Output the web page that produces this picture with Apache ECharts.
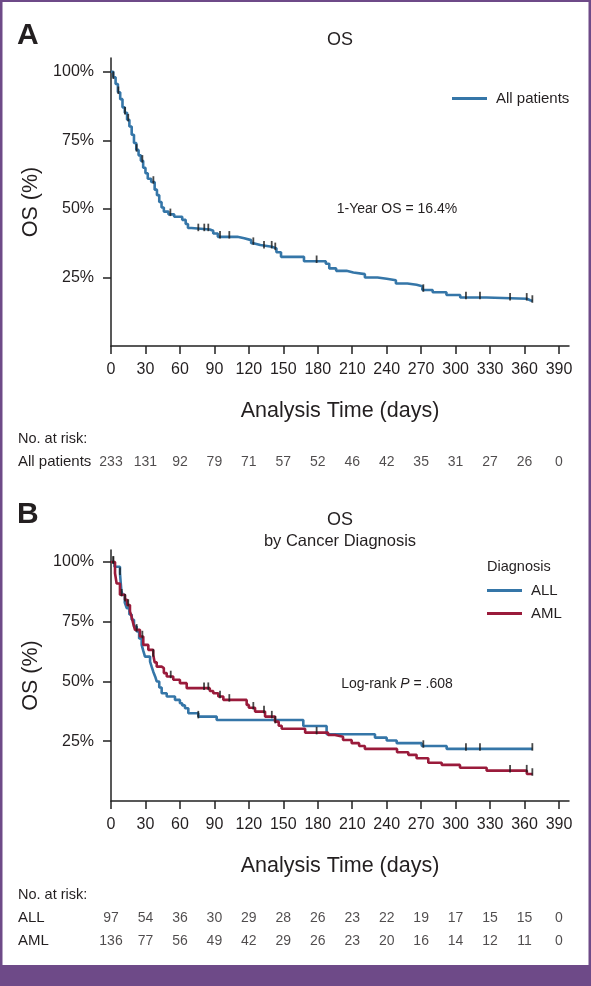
<!DOCTYPE html>
<html><head><meta charset="utf-8">
<script src="https://cdn.jsdelivr.net/npm/echarts@6/dist/echarts.min.js"></script>
<style>html,body{margin:0;padding:0;background:#fff}#c{width:591px;height:986px}</style>
</head><body><div id="c"></div>
<script>
// ---- data ----
const xTickValues = [0,30,60,90,120,150,180,210,240,270,300,330,360,390];
const yTickValues = [25,50,75,100];

const allTimes = [0,2,4,6,8,10,12,14,16,18,20,22,24,26,28,30,32,35,38,40,42,44,46,50,55,62,65,67,70,86,89,93,110,116,122,124,130,140,144,148,168,187,190,196,205,211,221,232,240,248,258,266,271,280,292,304,327,362,365,367];
const allSurv  = [100,98,95.5,92.5,90,87,85,82.5,80,77,74,71.5,69.5,67.5,65,63,61,59.8,57,55,52.5,50.5,49,48,47.1,46,44.5,43,42.5,42,41,39.8,39.3,38.6,37.5,36.8,36.2,35.6,34.2,32.5,30.9,30,28.3,27.4,26.8,26.2,25,24.5,24,22.8,22.3,21.8,20.4,19.6,18.6,17.7,17.2,16.7,16.4,16.4];
const allCensorTimes = [2,6.4,12.2,15,22.3,27.3,36.9,51.7,76,81.2,84.7,94.9,103,123.9,133.2,139.9,143,179,271.9,309,321.2,347.4,361.9,366.8];

const allTimesB = [0,3,7.8,9,10,12,13.7,16,18,20,22.4,24.5,26.7,28,29.6,34,35.5,36.8,38.5,39.8,42,44.1,48.5,55.7,60,62,64.4,67.3,76,92,167.4,187.7,229.8,240,248.7,270.5,292.2,367];
const allSurvB  = [100,98,95.3,88,86.3,83,80.7,78,75.8,73,70.9,68,65.3,63,60.4,58.3,56,54.1,52,50,47.5,45.1,43.7,42.3,40.9,40,38.8,36.7,35.3,33.9,31.4,27.9,26.5,25.3,24.2,23,21.8,21.8];
const allCensorTimesB = [2,7.8,76,271.9,309,321.2,366.8];

const amlTimes = [0,3.5,4.9,7.8,12.2,14,16.5,18,19.5,20.9,25.2,28.1,32.5,36.8,38,39.8,44.1,46,48.5,54.2,60,65.9,86,89,93.4,97.8,118.1,120,125.4,134.1,142.8,146,148.6,169,189,195,202,209.5,216,221,249,258.8,266,276.2,287.9,303.8,327,362,367];
const amlSurv  = [100,95.3,91,86.3,84.2,82,79.3,77,74,71.6,68.8,65.3,63.2,61.1,58,56.2,55.6,53.5,52.1,50.7,49.3,47.2,46,45.1,43.7,42.3,40.2,39,37.4,35.3,33.2,31.5,30.2,28.6,27.6,26.9,25.5,24.2,23,21.8,20.4,19.3,17.9,16,15.1,13.9,12.7,11.3,11.3];
const amlCensorTimes = [2,9.3,12.2,15,22.3,27.3,36.8,52,81,84.7,94.9,103,123.9,133.2,140,143,179,347.4,361.9,366.8];

const riskAll = [233,131,92,79,71,57,52,46,42,35,31,27,26,0];
const riskALL = [97,54,36,30,29,28,26,23,22,19,17,15,15,0];
const riskAML = [136,77,56,49,42,29,26,23,20,16,14,12,11,0];

// ---- helpers ----
const FONT = 'Liberation Sans, Arial, Helvetica, sans-serif';
const TXT = '#231f20';
const BLUE = '#3576a8';
const RED = '#9a1b3b';
const PURPLE = '#6e4a88';
const XMAX = 398.7;

function pairs(t, s){ return t.map((v,i)=>[v, s[i]]); }
function survAt(t, s, x){ let k=0; for(let i=0;i<t.length;i++){ if(t[i]<=x) k=i; } return s[k]; }
function censor(t, s, ct){ return ct.map(x=>[x, survAt(t,s,x)]); }

function xAx(grid){
  return {type:'value', gridIndex:grid, min:0, max:XMAX, interval:30,
    axisLine:{show:true, lineStyle:{color:'#222', width:1.5}},
    axisTick:{show:true, length:8, lineStyle:{color:'#222', width:1.5}, customValues:xTickValues},
    axisLabel:{fontSize:16, color:TXT, fontFamily:FONT, margin:16, customValues:xTickValues},
    splitLine:{show:false},
    name:'Analysis Time (days)', nameLocation:'middle', nameGap:54,
    nameTextStyle:{fontSize:21.5, color:TXT, fontFamily:FONT}};
}
function yAx(grid){
  return {type:'value', gridIndex:grid, min:0, max:105, interval:25,
    axisLine:{show:true, lineStyle:{color:'#222', width:1.5}},
    axisTick:{show:true, length:8, lineStyle:{color:'#222', width:1.5}, customValues:yTickValues},
    axisLabel:{fontSize:16, color:TXT, fontFamily:FONT, margin:17, formatter:v=>v+'%', customValues:yTickValues},
    splitLine:{show:false},
    name:'OS (%)', nameLocation:'middle', nameGap:56, nameRotate:90,
    nameTextStyle:{fontSize:21.5, color:TXT, fontFamily:FONT}};
}
function stepLine(name, t, s, color, xi){
  return {name, type:'line', step:'end', data:pairs(t,s), xAxisIndex:xi, yAxisIndex:xi,
    symbol:'none', showSymbol:false, lineStyle:{color, width:2.6}, itemStyle:{color}, z:3, silent:true};
}
function ticks(t, s, ct, xi){
  return {type:'scatter', data:censor(t,s,ct), xAxisIndex:xi, yAxisIndex:xi,
    symbol:'rect', symbolSize:[1.8,7.5], symbolOffset:[0,-2], itemStyle:{color:'#1a1a1a'}, z:4, silent:true};
}
function riskSeries(vals, row, xi){
  return {type:'scatter', xAxisIndex:xi, yAxisIndex:xi, symbolSize:1, itemStyle:{color:'rgba(0,0,0,0)'},
    data: vals.map((v,i)=>[xTickValues[i], row, v]),
    label:{show:true, position:'inside', formatter:p=>String(p.value[2]), fontSize:14, color:TXT, fontFamily:FONT}, silent:true};
}
function riskX(grid){ return {type:'value', gridIndex:grid, min:0, max:XMAX, show:false}; }
function riskY(grid, cats){
  return {type:'category', gridIndex:grid, data:cats, inverse:true,
    axisLine:{show:false}, axisTick:{show:false},
    axisLabel:{align:'left', margin:93, fontSize:15, color:TXT, fontFamily:FONT}};
}

const chart = echarts.init(document.getElementById('c'), null, {renderer:'canvas'});
chart.setOption({
  animation:false,
  backgroundColor:'#fff',
  textStyle:{fontFamily:FONT},
  grid:[
    {left:111, top:58, width:458, height:288},
    {left:111, top:550, width:458, height:251},
    {left:111, top:451, width:458, height:22},
    {left:111, top:907, width:458, height:45}
  ],
  xAxis:[xAx(0), xAx(1), riskX(2), riskX(3)],
  yAxis:[yAx(0), yAx(1), riskY(2, ['All patients']), riskY(3, ['ALL','AML'])],
  legend:[
    {data:[{name:'All patients'}], left:447, top:86, icon:'rect', itemWidth:35, itemHeight:3,
     textStyle:{fontSize:15, color:TXT, fontFamily:FONT, padding:[0,0,0,4]}},
    {data:[{name:'ALL'},{name:'AML'}], left:482, top:578, orient:'vertical', itemGap:8, icon:'rect', itemWidth:35, itemHeight:3,
     textStyle:{fontSize:15, color:TXT, fontFamily:FONT, padding:[0,0,0,4]}}
  ],
  series:[
    stepLine('All patients', allTimes, allSurv, BLUE, 0),
    ticks(allTimes, allSurv, allCensorTimes, 0),
    stepLine('ALL', allTimesB, allSurvB, BLUE, 1),
    stepLine('AML', amlTimes, amlSurv, RED, 1),
    ticks(allTimesB, allSurvB, allCensorTimesB, 1),
    ticks(amlTimes, amlSurv, amlCensorTimes, 1),
    riskSeries(riskAll, 0, 2),
    riskSeries(riskALL, 0, 3),
    riskSeries(riskAML, 1, 3)
  ],
  graphic:[
    {type:'rect', shape:{x:0,y:0,width:591,height:2}, style:{fill:PURPLE}, silent:true},
    {type:'rect', shape:{x:0,y:0,width:2.5,height:986}, style:{fill:PURPLE}, silent:true},
    {type:'rect', shape:{x:588.5,y:0,width:2.5,height:986}, style:{fill:PURPLE}, silent:true},
    {type:'rect', shape:{x:0,y:965,width:591,height:21}, style:{fill:PURPLE}, silent:true},
    {type:'text', x:17, y:36, style:{text:'A', fontSize:30, fontWeight:'bold', fill:TXT, fontFamily:FONT, textVerticalAlign:'middle'}},
    {type:'text', x:17, y:515, style:{text:'B', fontSize:30, fontWeight:'bold', fill:TXT, fontFamily:FONT, textVerticalAlign:'middle'}},
    {type:'text', x:340, y:40, style:{text:'OS', fontSize:18, fill:TXT, fontFamily:FONT, textAlign:'center', textVerticalAlign:'middle'}},
    {type:'text', x:340, y:520, style:{text:'OS', fontSize:18, fill:TXT, fontFamily:FONT, textAlign:'center', textVerticalAlign:'middle'}},
    {type:'text', x:340, y:541, style:{text:'by Cancer Diagnosis', fontSize:16.5, fill:TXT, fontFamily:FONT, textAlign:'center', textVerticalAlign:'middle'}},
    {type:'text', x:397, y:209, style:{text:'1-Year OS = 16.4%', fontSize:14, fill:TXT, fontFamily:FONT, textAlign:'center', textVerticalAlign:'middle'}},
    {type:'text', x:397, y:684, style:{text:'{a|Log-rank }{b|P}{a| = .608}', fill:TXT, textAlign:'center', textVerticalAlign:'middle',
      rich:{a:{fontSize:14, fontFamily:FONT, fill:TXT}, b:{fontSize:14, fontFamily:FONT, fontStyle:'italic', fill:TXT}}}},
    {type:'text', x:487, y:567, style:{text:'Diagnosis', fontSize:14.5, fill:TXT, fontFamily:FONT, textVerticalAlign:'middle'}},
    {type:'text', x:18, y:439, style:{text:'No. at risk:', fontSize:14.5, fill:TXT, fontFamily:FONT, textVerticalAlign:'middle'}},
    {type:'text', x:18, y:895, style:{text:'No. at risk:', fontSize:14.5, fill:TXT, fontFamily:FONT, textVerticalAlign:'middle'}}
  ]
});
</script></body></html>
